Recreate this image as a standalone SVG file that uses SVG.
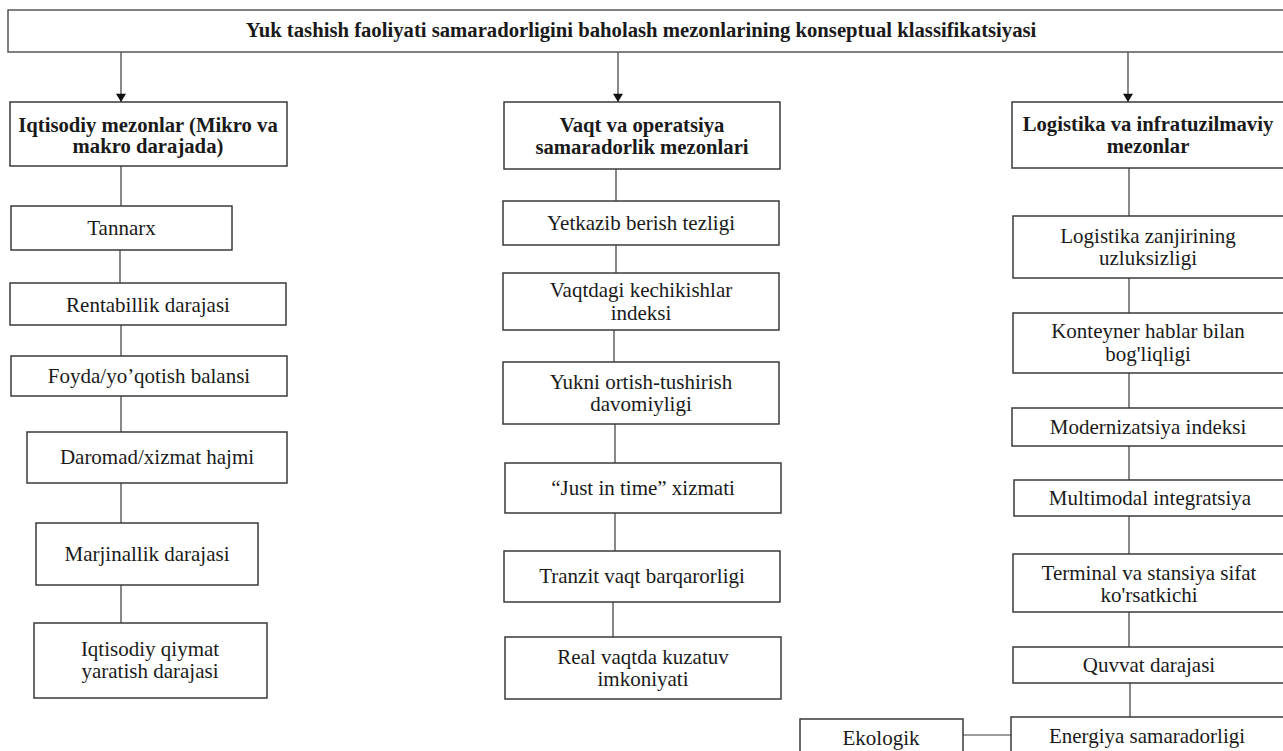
<svg xmlns="http://www.w3.org/2000/svg" width="1283" height="751" viewBox="0 0 1283 751">
<style>
  .box { fill: #ffffff; stroke: #3a3a3a; stroke-width: 1.5; }
  .t { font-family: "Liberation Serif", "Times New Roman", Tinos, "DejaVu Serif", serif; font-size: 21px; fill: #1a1a1a; text-anchor: middle; }
  .b { font-weight: bold; font-size: 20.7px; }
  .c { stroke: #3a3a3a; stroke-width: 1.2; fill: none; }
</style>
<defs>
  <marker id="arr" viewBox="0 0 10 12" refX="10" refY="6" markerWidth="12" markerHeight="10" markerUnits="userSpaceOnUse" orient="auto">
    <path d="M0,0 L10,6 L0,12 z" fill="#111"/>
  </marker>
</defs>
<rect width="1283" height="751" fill="#ffffff"/>

<g id="connectors">
  <line class="c" x1="121" y1="52" x2="121" y2="102" marker-end="url(#arr)"/>
  <line class="c" x1="618" y1="52" x2="618" y2="102" marker-end="url(#arr)"/>
  <line class="c" x1="1128" y1="52" x2="1128" y2="102" marker-end="url(#arr)"/>
  <line class="c" x1="121" y1="166" x2="121" y2="206"/>
  <line class="c" x1="120" y1="250" x2="120" y2="283"/>
  <line class="c" x1="121" y1="325" x2="121" y2="356"/>
  <line class="c" x1="121" y1="396" x2="121" y2="432"/>
  <line class="c" x1="121" y1="483" x2="121" y2="523"/>
  <line class="c" x1="121" y1="585" x2="121" y2="623"/>
  <line class="c" x1="616" y1="169" x2="616" y2="201"/>
  <line class="c" x1="616" y1="245" x2="616" y2="273"/>
  <line class="c" x1="614" y1="330" x2="614" y2="362"/>
  <line class="c" x1="615" y1="424" x2="615" y2="463"/>
  <line class="c" x1="615" y1="513" x2="615" y2="551"/>
  <line class="c" x1="613" y1="602" x2="613" y2="637"/>
  <line class="c" x1="1129" y1="168" x2="1129" y2="216"/>
  <line class="c" x1="1129" y1="278" x2="1129" y2="313"/>
  <line class="c" x1="1129" y1="373" x2="1129" y2="408"/>
  <line class="c" x1="1129" y1="446" x2="1129" y2="480"/>
  <line class="c" x1="1129" y1="516" x2="1129" y2="554"/>
  <line class="c" x1="1129" y1="612" x2="1129" y2="647"/>
  <line class="c" x1="1130" y1="683" x2="1130" y2="717"/>
  <line class="c" x1="963" y1="735" x2="1011" y2="735"/>
</g>

<g id="title">
  <rect class="box" x="8" y="10" width="1285" height="42" style="stroke:#555"/>
  <text class="t b" x="641" y="37">Yuk tashish faoliyati samaradorligini baholash mezonlarining konseptual klassifikatsiyasi</text>
</g>

<g id="h-iqtisodiy">
  <rect class="box" x="10" y="102" width="277" height="64"/>
  <text class="t b" x="148" y="132">Iqtisodiy mezonlar (Mikro va</text>
  <text class="t b" x="148" y="153">makro darajada)</text>
</g>
<g id="h-vaqt">
  <rect class="box" x="504" y="102" width="276" height="67"/>
  <text class="t b" x="642" y="132">Vaqt va operatsiya</text>
  <text class="t b" x="642" y="154">samaradorlik mezonlari</text>
</g>
<g id="h-logistika">
  <rect class="box" x="1012" y="102" width="280" height="66"/>
  <text class="t b" x="1148" y="131">Logistika va infratuzilmaviy</text>
  <text class="t b" x="1148" y="153">mezonlar</text>
</g>

<g id="tannarx"><rect class="box" x="11" y="206" width="221" height="44"/><text class="t" x="121.5" y="235">Tannarx</text></g>
<g id="rentabillik"><rect class="box" x="10" y="283" width="276" height="42"/><text class="t" x="148" y="312">Rentabillik darajasi</text></g>
<g id="foyda"><rect class="box" x="11" y="356" width="276" height="40"/><text class="t" x="149" y="383">Foyda/yo’qotish balansi</text></g>
<g id="daromad"><rect class="box" x="27" y="432" width="260" height="51"/><text class="t" x="157" y="464">Daromad/xizmat hajmi</text></g>
<g id="marjinallik"><rect class="box" x="36" y="523" width="222" height="62"/><text class="t" x="147" y="561">Marjinallik darajasi</text></g>
<g id="qiymat"><rect class="box" x="34" y="623" width="233" height="75"/><text class="t" x="150" y="656">Iqtisodiy qiymat</text><text class="t" x="150" y="678">yaratish darajasi</text></g>

<g id="yetkazib"><rect class="box" x="503" y="201" width="276" height="44"/><text class="t" x="641" y="230">Yetkazib berish tezligi</text></g>
<g id="kechikish"><rect class="box" x="503" y="273" width="276" height="57"/><text class="t" x="641" y="297">Vaqtdagi kechikishlar</text><text class="t" x="641" y="320">indeksi</text></g>
<g id="yukni"><rect class="box" x="503" y="362" width="276" height="62"/><text class="t" x="641" y="389">Yukni ortish-tushirish</text><text class="t" x="641" y="411">davomiyligi</text></g>
<g id="jit"><rect class="box" x="505" y="463" width="276" height="50"/><text class="t" x="643" y="495">“Just in time” xizmati</text></g>
<g id="tranzit"><rect class="box" x="504" y="551" width="276" height="51"/><text class="t" x="642" y="583">Tranzit vaqt barqarorligi</text></g>
<g id="real"><rect class="box" x="505" y="637" width="276" height="62"/><text class="t" x="643" y="664">Real vaqtda kuzatuv</text><text class="t" x="643" y="686">imkoniyati</text></g>

<g id="zanjir"><rect class="box" x="1013" y="216" width="280" height="62"/><text class="t" x="1148" y="243">Logistika zanjirining</text><text class="t" x="1148" y="265">uzluksizligi</text></g>
<g id="konteyner"><rect class="box" x="1013" y="313" width="280" height="60"/><text class="t" x="1148" y="338">Konteyner hablar bilan</text><text class="t" x="1148" y="361">bog'liqligi</text></g>
<g id="modern"><rect class="box" x="1012" y="408" width="280" height="38"/><text class="t" x="1148" y="434">Modernizatsiya indeksi</text></g>
<g id="multimodal"><rect class="box" x="1014" y="480" width="280" height="36"/><text class="t" x="1150" y="505">Multimodal integratsiya</text></g>
<g id="terminal"><rect class="box" x="1013" y="554" width="280" height="58"/><text class="t" x="1149" y="580">Terminal va stansiya sifat</text><text class="t" x="1149" y="602">ko'rsatkichi</text></g>
<g id="quvvat"><rect class="box" x="1013" y="647" width="280" height="36"/><text class="t" x="1149" y="672">Quvvat darajasi</text></g>
<g id="energiya"><rect class="box" x="1011" y="717" width="280" height="50"/><text class="t" x="1147" y="743">Energiya samaradorligi</text></g>
<g id="ekologik"><rect class="box" x="800" y="719" width="163" height="50"/><text class="t" x="881" y="745">Ekologik</text></g>
</svg>
